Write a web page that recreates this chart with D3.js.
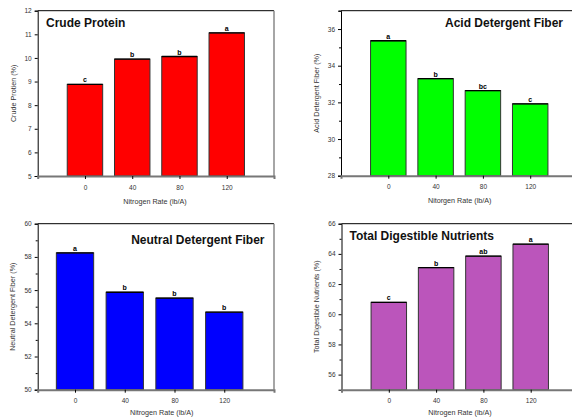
<!DOCTYPE html>
<html><head><meta charset="utf-8">
<script src="https://cdn.jsdelivr.net/npm/d3@7"></script>
<style>body{margin:0;background:#fff}svg{display:block;font-family:"Liberation Sans",Arial,sans-serif}</style>
</head><body>
<svg id="c" width="572" height="417"></svg>
<script>
const rates = [0, 40, 80, 120];
const crudeProtein = [8.88, 9.95, 10.06, 11.06];
const cpLetters = ["c", "b", "b", "a"];
const adf = [35.36, 33.29, 32.64, 31.92];
const adfLetters = ["a", "b", "bc", "c"];
const ndf = [58.24, 55.87, 55.52, 54.67];
const ndfLetters = ["a", "b", "b", "b"];
const tdn = [60.79, 63.09, 63.85, 64.64];
const tdnLetters = ["c", "b", "ab", "a"];
const cpTicks = [5, 6, 7, 8, 9, 10, 11, 12];
const adfTicks = [28, 30, 32, 34, 36];
const ndfTicks = [50, 52, 54, 56, 58, 60];
const tdnTicks = [56, 58, 60, 62, 64, 66];

const panels = [
  {vals: crudeProtein, letters: cpLetters, ticks: cpTicks, minor: [], ydom: [5, 12], xdom: [-40, 160],
   x0: 37.7, x1: 274, y0: 176, y1: 10.7, color: "#ff0000",
   title: "Crude Protein", tx: 46, ty: 27, tanchor: "start",
   ylab: "Crude Protien (%)", ylx: 15.5, xlab: "Nitrogen Rate (lb/A)", xlx: 155, xly: 203.5},
  {vals: adf, letters: adfLetters, ticks: adfTicks, minor: [29, 31, 33, 35, 37], ydom: [28, 37], xdom: [-40, 160],
   x0: 341, x1: 577.5, y0: 175.7, y1: 10.7, color: "#00ff00",
   title: "Acid Detergent Fiber", tx: 563, ty: 27, tanchor: "end",
   ylab: "Acid Detergent Fiber (%)", ylx: 319, xlab: "Nitorgen Rate (lb/A)", xlx: 459.7, xly: 203.3},
  {vals: ndf, letters: ndfLetters, ticks: ndfTicks, minor: [51, 53, 55, 57, 59], ydom: [50, 60], xdom: [-30, 160],
   x0: 37.7, x1: 274, y0: 389.7, y1: 223.7, color: "#0000ff",
   title: "Neutral Detergent Fiber", tx: 264.5, ty: 244, tanchor: "end",
   ylab: "Neutral Detergent Fiber (%)", ylx: 15, xlab: "Nitrogen Rate (lb/A)", xlx: 161.7, xly: 415},
  {vals: tdn, letters: tdnLetters, ticks: tdnTicks, minor: [57, 59, 61, 63, 65], ydom: [55, 66], xdom: [-40, 160],
   x0: 341.5, x1: 578, y0: 389.7, y1: 223.7, color: "#bb55bb",
   title: "Total Digestible Nutrients", tx: 349.5, ty: 240, tanchor: "start",
   ylab: "Total Digestible Nutrients (%)", ylx: 319, xlab: "Nitrogen Rate (lb/A)", xlx: 460, xly: 415}
];

const svg = d3.select("#c");

panels.forEach(p => {
  const x = d3.scaleLinear().domain(p.xdom).range([p.x0, p.x1]);
  const y = d3.scaleLinear().domain(p.ydom).range([p.y0, p.y1]);
  const g = svg.append("g");
  const bw = x(15) - x(-15);

  // frame: top black, right gray
  g.append("line").attr("x1", p.x0).attr("x2", p.x1).attr("y1", p.y1).attr("y2", p.y1)
    .attr("stroke", "#000").attr("stroke-width", 1);
  g.append("line").attr("x1", p.x1).attr("x2", p.x1).attr("y1", p.y1).attr("y2", p.y0)
    .attr("stroke", "#888").attr("stroke-width", 1.5);

  // bars
  g.selectAll("rect.bar").data(p.vals).join("rect").attr("class", "bar")
    .attr("x", (d, i) => x(rates[i]) - bw / 2)
    .attr("width", bw)
    .attr("y", d => y(d))
    .attr("height", d => y(p.ydom[0]) - y(d))
    .attr("fill", p.color)
    .attr("stroke", "#333").attr("stroke-width", 1);
  g.selectAll("line.btop").data(p.vals).join("line").attr("class", "btop")
    .attr("x1", (d, i) => x(rates[i]) - bw / 2).attr("x2", (d, i) => x(rates[i]) + bw / 2)
    .attr("y1", d => y(d)).attr("y2", d => y(d))
    .attr("stroke", "#000").attr("stroke-width", 1.3);

  // letters
  g.selectAll("text.lt").data(p.vals).join("text").attr("class", "lt")
    .attr("x", (d, i) => x(rates[i])).attr("y", d => y(d) - 2)
    .attr("text-anchor", "middle").attr("font-size", 7).attr("font-weight", "bold")
    .text((d, i) => p.letters[i]);

  // y axis
  const ya = d3.axisLeft(y).tickValues(p.ticks).tickSize(3).tickPadding(3).tickFormat(d3.format("d"));
  const yg = g.append("g").attr("transform", `translate(${p.x0},0)`).call(ya);
  yg.select(".domain").attr("stroke", "#000").attr("stroke-width", 1);
  yg.selectAll(".tick line").attr("stroke", "#000");
  yg.selectAll(".tick text").attr("font-size", 6.5).attr("fill", "#333").attr("font-family", "Liberation Sans, Arial, sans-serif");
  if (p.minor.length) {
    const ym = d3.axisLeft(y).tickValues(p.minor.filter(v => v <= p.ydom[1])).tickSize(2).tickFormat("");
    const mg = g.append("g").attr("transform", `translate(${p.x0},0)`).call(ym);
    mg.select(".domain").remove();
    mg.selectAll(".tick line").attr("stroke", "#000");
  }

  // x axis
  const xa = d3.axisBottom(x).tickValues(rates).tickSize(3).tickPadding(6).tickFormat(d3.format("d"));
  const xg = g.append("g").attr("transform", `translate(0,${p.y0})`).call(xa);
  xg.select(".domain").attr("stroke", "#777").attr("stroke-width", 2);
  xg.selectAll(".tick line").attr("stroke", "#000");
  xg.selectAll(".tick text").attr("font-size", 6.5).attr("fill", "#333").attr("font-family", "Liberation Sans, Arial, sans-serif");

  // titles
  g.append("text").attr("x", p.tx).attr("y", p.ty).attr("text-anchor", p.tanchor)
    .attr("font-size", 12).attr("font-weight", "bold").attr("fill", "#111").text(p.title);
  g.append("text").attr("x", p.xlx).attr("y", p.xly)
    .attr("text-anchor", "middle").attr("font-size", 7.2).attr("fill", "#333").text(p.xlab);
  g.append("text").attr("transform", `translate(${p.ylx},${(p.y0 + p.y1) / 2}) rotate(-90)`)
    .attr("text-anchor", "middle").attr("font-size", 7.2).attr("fill", "#333").text(p.ylab);
});
</script>
</body></html>
